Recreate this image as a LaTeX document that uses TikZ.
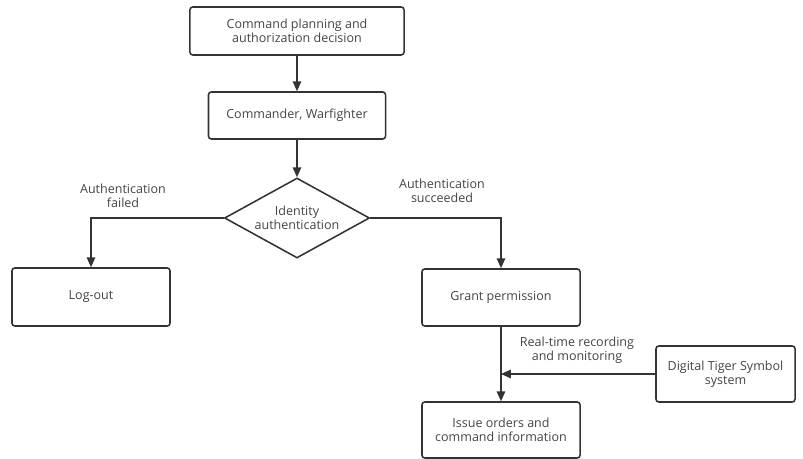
\documentclass[tikz,border=0pt]{standalone}
\usepackage{fontspec}
\setmainfont{Open Sans}
\usepackage{tikz}
\usetikzlibrary{
    arrows.meta,
    calc,
    shapes.geometric
}

\definecolor{linegray}{HTML}{333333}
\definecolor{textgray}{HTML}{444444}

\tikzset{
    stepbox/.style={draw=linegray, line width=1.1pt, rounded corners=2pt,
        align=center, text=textgray, font=\fontsize{8.9}{10}\selectfont, inner sep=2pt},
    decision/.style={draw=linegray, line width=1.1pt, diamond, aspect=1.8,
        align=center, text=textgray, font=\fontsize{8.9}{10}\selectfont, inner sep=0pt},
    flow/.style={draw=linegray, line width=1.1pt, -{Triangle[length=7pt,width=6pt]}},
    note/.style={align=center, text=textgray, font=\fontsize{8.9}{10}\selectfont}
}

\begin{document}
\begin{tikzpicture}[x=0.025cm,y=-0.025cm]

\useasboundingbox (0,0) rectangle (803,459);

% Main column
\node[stepbox, minimum width=5.35cm, minimum height=1.2cm] (plan) at (297,31)
    {Command planning and\\authorization decision};
\node[stepbox, minimum width=4.425cm, minimum height=1.175cm] (cmdr) at (297,115.5)
    {Commander, Warfighter};
\node[decision, minimum width=3.625cm, minimum height=2cm] (ident) at (297,218)
    {Identity\\authentication};

% Two branches
\node[stepbox, minimum width=3.95cm, minimum height=1.45cm] (logout) at (91,297)
    {Log-out};
\node[stepbox, minimum width=3.95cm, minimum height=1.425cm] (grant) at (501,297.5)
    {Grant permission};
\node[stepbox, minimum width=3.95cm, minimum height=1.4cm] (issue) at (501,430)
    {Issue orders and\\command information};

% Monitoring system
\node[stepbox, minimum width=3.475cm, minimum height=1.4cm] (tiger) at (725.5,374)
    {Digital Tiger Symbol\\system};
\coordinate (join) at (grant.south |- tiger.west);

% Connectors
\draw[flow] (plan) -- (cmdr);
\draw[flow] (cmdr) -- (ident);
\draw[flow] (ident.west) -| (logout.north);
\draw[flow] (ident.east) -| (grant.north);
\draw[flow] (grant) -- (issue);
\draw[flow] (tiger.west) -- (join);

% Branch labels
\node[note] (failed) at (123,196) {Authentication\\failed};
\node[note] (succ) at (442,191) {Authentication\\succeeded};
\node[note] (rec) at (577,350) {Real-time recording\\and monitoring};

\end{tikzpicture}
\end{document}
